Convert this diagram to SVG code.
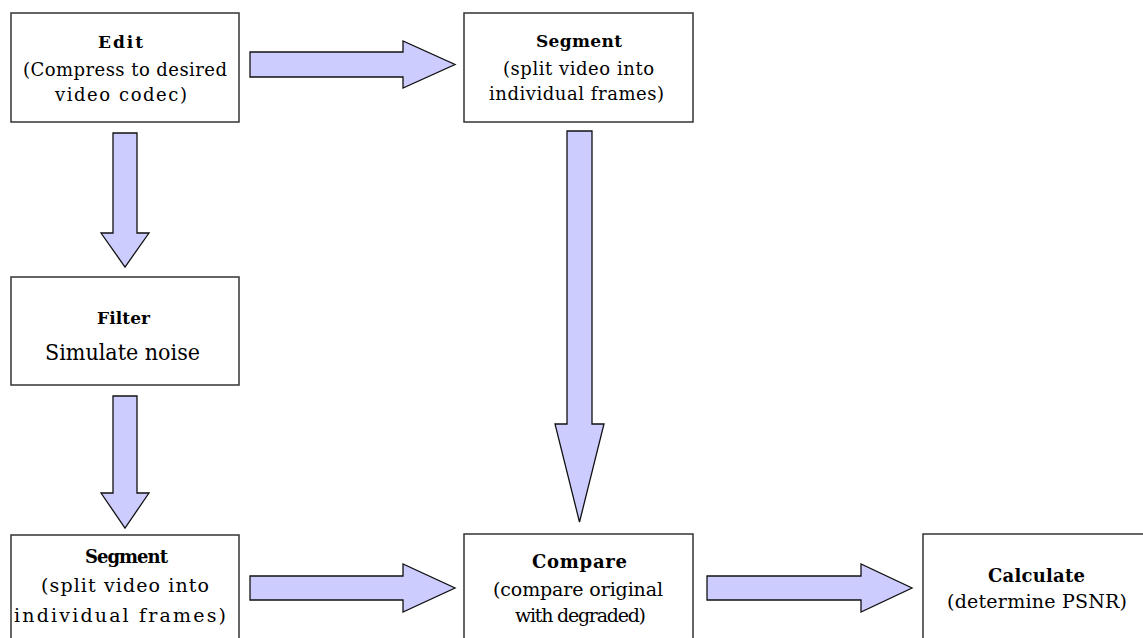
<svg xmlns="http://www.w3.org/2000/svg" width="1143" height="638" viewBox="0 0 1143 638">
  <style>
    .box { fill: #ffffff; stroke: #333333; stroke-width: 1.5; }
    .arrow { fill: #ccccff; stroke: #111111; stroke-width: 1.3; stroke-linejoin: miter; }
    text { font-family: "DejaVu Serif", "Liberation Serif", serif; fill: #000000; }
    .title { font-weight: bold; font-size: 17px; }
    .sub { font-size: 18px; }
    .title2 { font-weight: bold; font-size: 18px; }
    .sub2 { font-size: 19px; }
    .big { font-size: 23px; }
  </style>
  <rect width="1143" height="638" fill="#ffffff"/>

  <!-- connectors: block arrows -->
  <g id="connectors">
    <polygon class="arrow" points="250,52 403,52 403,41 455,64.5 403,88 403,77 250,77"/>
    <polygon class="arrow" points="113,133 137,133 137,233 149,233 125,267 101,233 113,233"/>
    <polygon class="arrow" points="113,396 137,396 137,493 149,493 125,528 101,493 113,493"/>
    <polygon class="arrow" points="567,131 592,131 592,424 604,424 579.5,522 555,424 567,424"/>
    <polygon class="arrow" points="250,576 403,576 403,564 455,588 403,612 403,600 250,600"/>
    <polygon class="arrow" points="707,576 861,576 861,564 912,588 861,612 861,600 707,600"/>
  </g>

  <g id="edit">
    <rect class="box" x="11" y="13" width="228" height="109"/>
    <text class="title" x="98" y="48" textLength="45" lengthAdjust="spacing">Edit</text>
    <text class="sub" x="23" y="76" textLength="204" lengthAdjust="spacing">(Compress to desired</text>
    <text class="sub" x="55" y="101" textLength="132" lengthAdjust="spacing">video codec)</text>
  </g>

  <g id="segment-top">
    <rect class="box" x="464" y="13" width="229" height="109"/>
    <text class="title" x="536" y="47" textLength="86" lengthAdjust="spacing">Segment</text>
    <text class="sub" x="503" y="75" textLength="151" lengthAdjust="spacing">(split video into</text>
    <text class="sub" x="489" y="100" textLength="175" lengthAdjust="spacing">individual frames)</text>
  </g>

  <g id="filter">
    <rect class="box" x="11" y="277" width="228" height="108"/>
    <text class="title" x="97" y="324" textLength="53" lengthAdjust="spacing">Filter</text>
    <text class="big" x="45" y="360" textLength="155" lengthAdjust="spacingAndGlyphs">Simulate noise</text>
  </g>

  <g id="segment-bottom">
    <rect class="box" x="11" y="535" width="228" height="110"/>
    <text class="title2" x="85" y="563" textLength="83" lengthAdjust="spacing">Segment</text>
    <text class="sub2" x="41" y="592" textLength="168" lengthAdjust="spacing">(split video into</text>
    <text class="sub2" x="14" y="622" textLength="212" lengthAdjust="spacing">individual frames)</text>
  </g>

  <g id="compare">
    <rect class="box" x="464" y="534" width="229" height="110"/>
    <text class="title2" x="532" y="568" textLength="95" lengthAdjust="spacing">Compare</text>
    <text class="sub2" x="493" y="596" textLength="170" lengthAdjust="spacing">(compare original</text>
    <text class="sub2" x="515" y="622" textLength="131" lengthAdjust="spacing">with degraded)</text>
  </g>

  <g id="calculate">
    <rect class="box" x="923" y="534" width="229" height="110"/>
    <text class="title2" x="988" y="582" textLength="97" lengthAdjust="spacing">Calculate</text>
    <text class="sub2" x="947" y="608" textLength="180" lengthAdjust="spacing">(determine PSNR)</text>
  </g>
</svg>
